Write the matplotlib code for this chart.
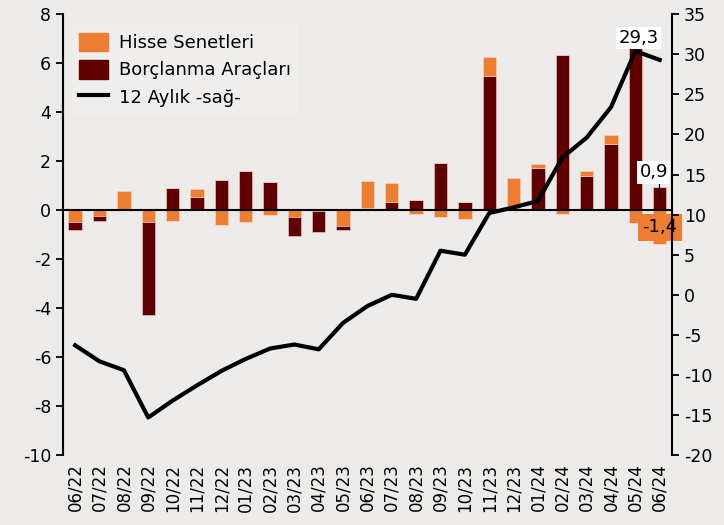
import matplotlib.pyplot as plt
import numpy as np
from matplotlib.patches import Patch
from matplotlib.lines import Line2D

months = ['06/22', '07/22', '08/22', '09/22', '10/22', '11/22', '12/22', '01/23', '02/23',
          '03/23', '04/23', '05/23', '06/23', '07/23', '08/23', '09/23', '10/23', '11/23',
          '12/23', '01/24', '02/24', '03/24', '04/24', '05/24', '06/24']
hisse = [-0.50, -0.23, 0.78, -0.50, -0.44, 0.33, -0.59, -0.49, -0.19, -0.27, -0.02, -0.64, 1.10,
         0.75, -0.14, -0.26, -0.38, 0.78, 1.20, 0.18, -0.14, 0.23, 0.36, -0.52, -1.40]
borc = [-0.30, -0.20, 0.00, -3.78, 0.92, 0.55, 1.23, 1.61, 1.16, -0.78, -0.89, -0.16, 0.10,
        0.34, 0.41, 1.91, 0.33, 5.48, 0.10, 1.71, 6.35, 1.38, 2.69, 6.80, 0.93]
yillik = [-6.3, -8.3, -9.4, -15.3, -13.2, -11.3, -9.5, -8.0, -6.7, -6.2, -6.8, -3.5, -1.4,
          0.0, -0.5, 5.5, 5.0, 10.2, 10.9, 11.7, 17.1, 19.6, 23.4, 30.4, 29.3]

ORANGE = '#ED7D31'
DARK = '#600000'
BG = '#ECEBE9'

plt.rcParams['font.family'] = 'DejaVu Sans'
plt.rcParams['axes.unicode_minus'] = False
fig = plt.figure(figsize=(7.24, 5.25), dpi=100, facecolor=BG)
ax = fig.add_axes([0.087, 0.133, 0.841, 0.840])
ax.set_facecolor(BG)

x = np.arange(len(months))
hisse = np.array(hisse)
borc = np.array(borc)
w = 0.55

# positive values: borc at bottom, hisse on top; negative: hisse next to zero
b_pos = np.where(borc > 0, borc, 0)
h_pos = np.where(hisse > 0, hisse, 0)
h_neg = np.where(hisse < 0, hisse, 0)
b_neg = np.where(borc < 0, borc, 0)

ax.bar(x, b_pos, w, color=DARK, edgecolor='#F2D8D0', linewidth=0.4, zorder=2)
ax.bar(x, h_pos, w, bottom=b_pos, color=ORANGE, edgecolor='#F7D9C4', linewidth=0.4, zorder=2)
ax.bar(x, h_neg, w, color=ORANGE, edgecolor='#F7D9C4', linewidth=0.4, zorder=2)
ax.bar(x, b_neg, w, bottom=h_neg, color=DARK, edgecolor='#F2D8D0', linewidth=0.4, zorder=2)
ax.axhline(0, color='black', linewidth=1.5, zorder=3)

ax.set_xlim(-0.5, len(months) - 0.5)
ax.set_ylim(-10, 8)
ax.set_yticks(range(-10, 9, 2))
ax.set_xticks(x)
ax.set_xticklabels(months, rotation=90, fontsize=12)
ax.tick_params(axis='x', length=0, pad=6)
ax.tick_params(axis='y', labelsize=12.5, length=5, width=1.3, direction='out')
for s in ['top', 'right', 'bottom']:
    ax.spines[s].set_visible(False)
ax.spines['left'].set_linewidth(1.5)

ax2 = ax.twinx()
ax2.plot(x, yillik, color='black', linewidth=3, zorder=4)
ax2.set_ylim(-20, 35)
ax2.set_yticks(range(-20, 36, 5))
ax2.tick_params(axis='y', labelsize=12.5, length=5, width=1.3, direction='out')
for s in ['top', 'left', 'bottom']:
    ax2.spines[s].set_visible(False)
ax2.spines['right'].set_linewidth(1.5)

# labels for the last month
last = len(months) - 1
ax2.annotate(f'{yillik[-1]:.1f}'.replace('.', ','), xy=(x[last], yillik[-1]),
             xytext=(-21, 22), textcoords='offset pixels', ha='center', va='center',
             fontsize=13, bbox=dict(boxstyle='square,pad=0.12', fc='white', ec='none'), zorder=6)
ax.annotate(f'{borc[-1]:.1f}'.replace('.', ','), xy=(x[last], borc[-1] - 0.45),
            xytext=(-6, 26), textcoords='offset pixels', ha='center', va='center',
            fontsize=13, bbox=dict(boxstyle='square,pad=0.12', fc='white', ec='none'),
            arrowprops=dict(arrowstyle='-', color='black', lw=0.8, shrinkA=0, shrinkB=0,
                            relpos=(0.7, 0.0)), zorder=6)
ax.text(x[last], hisse[-1] / 2, f'{hisse[-1]:.1f}'.replace('.', ','), ha='center', va='center',
        fontsize=13, bbox=dict(boxstyle='square,pad=0.25', fc=ORANGE, ec='none'), zorder=6)

handles = [Patch(color=ORANGE), Patch(color=DARK), Line2D([], [], color='black', linewidth=3)]
labels = ['Hisse Senetleri', 'Borçlanma Araçları', '12 Aylık -sağ-']
leg = ax2.legend(handles, labels, loc='upper left', bbox_to_anchor=(0.0, 0.995), fontsize=13,
                 frameon=True, facecolor='#EFEEED', edgecolor='none', framealpha=1,
                 handlelength=1.6, handleheight=1.2, handletextpad=0.6, labelspacing=0.45,
                 borderpad=0.4, fancybox=False)
leg.set_zorder(5)

fig.savefig('out.png', dpi=100, facecolor=BG)
